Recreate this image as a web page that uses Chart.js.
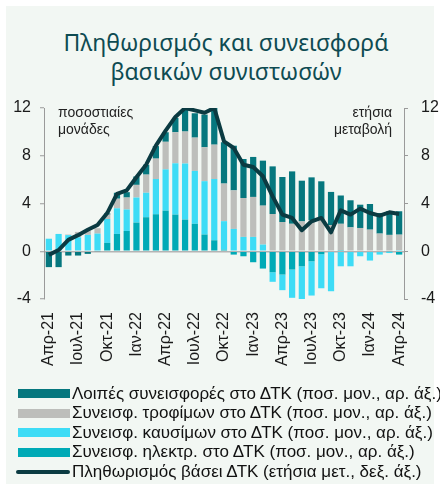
<!DOCTYPE html>
<html>
<head>
<meta charset="utf-8">
<script src="https://cdn.jsdelivr.net/npm/chart.js"></script>
<style>
body{margin:0;background:#fff;width:440px;height:484px;overflow:hidden;position:relative;font-family:"Liberation Sans",Arial,sans-serif}
#panel{position:absolute;left:6px;top:6px;width:428px;height:478px;background:#f2f7f3}
#title{position:absolute;left:0;top:28px;width:452px;text-align:center;font-family:"Noto Sans",sans-serif;font-size:23px;line-height:29px;color:#0e4b52}
#c{position:absolute;left:0;top:0}
#legend{position:absolute;left:16px;top:384px}
.row{height:19.5px;display:flex;align-items:center;font-size:17px;color:#111;white-space:nowrap}
.box{width:52px;height:9px;margin:0 2px 0 2px}
.ln{width:54px;height:4px;border-radius:2px;margin-right:2px}
</style>
</head>
<body>
<div id="panel"></div>
<div id="title">Πληθωρισμός και συνεισφορά<br>βασικών συνιστωσών</div>
<canvas id="c" width="440" height="484"></canvas>
<div id="legend"></div>
<script>
const months=["Απρ-21","Μαϊ-21","Ιουν-21","Ιουλ-21","Αυγ-21","Σεπ-21","Οκτ-21","Νοε-21","Δεκ-21",
"Ιαν-22","Φεβ-22","Μαρ-22","Απρ-22","Μαϊ-22","Ιουν-22","Ιουλ-22","Αυγ-22","Σεπ-22","Οκτ-22","Νοε-22","Δεκ-22",
"Ιαν-23","Φεβ-23","Μαρ-23","Απρ-23","Μαϊ-23","Ιουν-23","Ιουλ-23","Αυγ-23","Σεπ-23","Οκτ-23","Νοε-23","Δεκ-23",
"Ιαν-24","Φεβ-24","Μαρ-24","Απρ-24"]

const elec=[0,0,0,0,0,0,0.7,1.45,1.7,2.4,2.85,3.1,3.4,3.07,2.65,2.3,1.4,0.92,0.12,-0.28,-0.42,-0.92,-1.45,-1.76,-1.95,-1.53,-1.26,-0.84,-0.25,0,0.1,0,0,0,0,-0.05,-0.28]
const fuel=[1.05,1.45,1.35,1.17,1.37,1.48,2.0,2.15,1.8,2.1,2.05,2.95,3.46,4.3,4.7,4.43,4.47,5.13,2.4,1.87,1.2,1.2,0.56,-0.8,-1.31,-2.37,-2.8,-2.87,-2.85,-3.35,-1.26,-1.26,-0.42,-0.78,-0.28,-0.1,0.1]
const food=[0,0,0.05,0.45,0.36,0.45,0.37,0.8,1.0,1.06,1.52,1.71,2.31,2.6,2.68,2.79,2.84,2.88,3.15,3.23,3.26,3.35,3.26,3.12,2.45,2.3,2.5,2.6,2.6,2.2,2.2,2.0,1.95,1.81,1.48,1.37,1.29]
const other=[-1.33,-1.33,-0.36,-0.36,-0.22,-0.05,0.1,0.5,0.45,0.7,0.83,1.05,0.8,1.2,1.86,2.04,2.74,3.15,3.46,3.74,3.27,3.35,3.77,3.99,3.77,4.39,3.41,3.59,3.26,2.77,2.37,2.27,1.95,2.15,1.72,1.98,1.96]
const cpi=[-0.3,0.1,0.95,1.35,1.8,2.2,3.2,4.8,5.1,6.2,7.25,8.85,10.1,11.25,12.0,11.8,11.6,12.0,9.2,8.65,7.25,7.06,6.28,4.6,3.07,2.79,1.76,2.51,2.79,1.59,3.43,3.07,3.57,3.2,2.98,3.26,3.12]

const names=["Λοιπές συνεισφορές στο ΔΤΚ (ποσ. μον., αρ. άξ.)","Συνεισφ. τροφίμων στο ΔΤΚ (ποσ. μον., αρ. άξ.)",
"Συνεισφ. καυσίμων στο ΔΤΚ (ποσ. μον., αρ. άξ.)","Συνεισφ. ηλεκτρ. στο ΔΤΚ (ποσ. μον., αρ. άξ.)",
"Πληθωρισμός βάσει ΔΤΚ (ετήσια μετ., δεξ. άξ.)"]
const colors=["#06777e","#bdbebb","#3edcf6","#00aab6","#0b3b42"]
const leftNote=["ποσοστιαίες","μονάδες"]
const rightNote=["ετήσια","μεταβολή"]

const font='"Liberation Sans", Arial, sans-serif'

const notes={
id:"notes",
afterDraw(chart){
const c=chart.ctx, a=chart.chartArea
c.save()
c.font="14px "+font
c.fillStyle="#222"
c.textAlign="left"
c.fillText(leftNote[0],a.left+14,a.top+9)
c.fillText(leftNote[1],a.left+14,a.top+26)
c.textAlign="right"
c.fillText(rightNote[0],a.right-12,a.top+9)
c.fillText(rightNote[1],a.right-12,a.top+26)
c.restore()
}
}

function bar(i,data){
return {type:"bar",label:names[i],data:data,backgroundColor:colors[i],order:1,yAxisID:"y",
barPercentage:0.64,categoryPercentage:1}
}

new Chart(document.getElementById("c"),{
data:{
labels:months,
datasets:[
{type:"line",label:names[4],data:cpi,borderColor:colors[4],borderWidth:4,pointRadius:0,order:0,yAxisID:"y2",borderJoinStyle:"round"},
bar(3,elec),bar(2,fuel),bar(1,food),bar(0,other)
]
},
options:{
responsive:false,
animation:false,
layout:{padding:{top:108,left:0,right:0,bottom:0}},
plugins:{legend:{display:false},tooltip:{enabled:false}},
scales:{
x:{stacked:true,
grid:{display:false,drawTicks:false},border:{display:false},
ticks:{autoSkip:false,minRotation:90,maxRotation:90,padding:13,color:"#1a1a1a",font:{family:font,size:16},
callback:(v,i)=>i%3==0?months[i]:""},
afterFit:s=>{s.height=185}
},
y:{stacked:true,position:"left",min:-4,max:12,
ticks:{stepSize:4,padding:9,color:"#1a1a1a",font:{family:font,size:16}},
grid:{color:c=>c.tick.value==0?"#b4b4b4":"rgba(0,0,0,0)",lineWidth:1.5,tickColor:"#9a9a9a",tickLength:4,tickWidth:1},
border:{color:"#9a9a9a",width:1},
afterFit:s=>{s.width=44}
},
y2:{position:"right",min:-4,max:12,
ticks:{stepSize:4,padding:13,color:"#1a1a1a",font:{family:font,size:16}},
grid:{drawOnChartArea:false,tickColor:"#9a9a9a",tickLength:4},
border:{color:"#9a9a9a",width:1},
afterFit:s=>{s.width=36}
}
}
},
plugins:[notes]
})

let html=""
names.forEach((n,i)=>{
if(i==4){
html+='<div class="row"><div class="ln" style="background:'+colors[i]+'"></div>'+n+'</div>'
}else{
html+='<div class="row"><div class="box" style="background:'+colors[i]+'"></div>'+n+'</div>'
}
})
document.getElementById("legend").innerHTML=html
</script>
</body>
</html>
